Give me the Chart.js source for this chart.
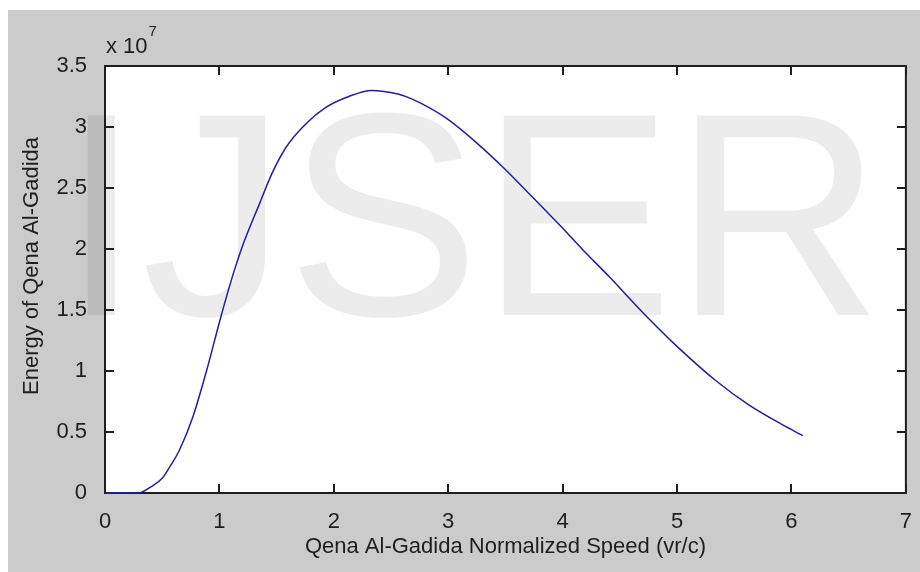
<!DOCTYPE html>
<html>
<head>
<meta charset="utf-8">
<style>
  html, body { margin: 0; padding: 0; background: #fff; }
  #wrap { width: 920px; height: 572px; }
</style>
<script src="https://cdn.jsdelivr.net/npm/chart.js@4"></script>
</head>
<body>
<div id="wrap"><canvas id="plot" width="920" height="572"></canvas></div>
<script>
// normalized speed (vr/c) and energy in units of 10^7
const speed = [0, 0.1, 0.2, 0.29, 0.4, 0.5, 0.57, 0.65, 0.77, 0.89, 1.0, 1.09, 1.2, 1.35, 1.46, 1.58, 1.75, 1.93, 2.13, 2.33, 2.56, 2.68, 2.97, 3.26, 3.49, 3.69, 3.98, 4.18, 4.41, 4.7, 4.99, 5.34, 5.63, 5.92, 6.1];
const energy = [0, 0, 0, 0, 0.05, 0.12, 0.22, 0.35, 0.63, 1.01, 1.4, 1.7, 2.02, 2.37, 2.62, 2.83, 3.02, 3.16, 3.25, 3.3, 3.27, 3.23, 3.08, 2.86, 2.66, 2.47, 2.19, 1.99, 1.77, 1.48, 1.21, 0.92, 0.72, 0.56, 0.47];

const xLabel = 'Qena Al-Gadida Normalized Speed (vr/c)';
const yLabel = 'Energy of Qena Al-Gadida';
const exponent = '7';
const watermark = 'IJSER';

const family = '"Liberation Sans", Arial, Helvetica, sans-serif';
const ink = '#1e1e1e';

const matlabFrame = {
    id: 'matlabFrame',
    beforeDraw(chart) {
        const { ctx, chartArea: a } = chart;
        ctx.save();
        ctx.fillStyle = '#fff';
        ctx.fillRect(0, 0, chart.width, chart.height);
        ctx.fillStyle = '#cbcbcb';
        ctx.fillRect(8, 10, chart.width - 8, chart.height - 10);
        ctx.fillStyle = '#fff';
        ctx.fillRect(a.left, a.top, a.right - a.left, a.bottom - a.top);
        // faint stamp behind everything
        ctx.fillStyle = 'rgba(0,0,0,0.075)';
        ctx.font = `290px ${family}`;
        ctx.textBaseline = 'alphabetic';
        ctx.fillText(watermark, 61, 315);
        ctx.restore();
    },
    beforeDatasetsDraw(chart) {
        const { ctx, chartArea: a, scales } = chart;
        ctx.save();
        ctx.strokeStyle = ink;
        ctx.lineWidth = 2;
        ctx.strokeRect(a.left, a.top, a.right - a.left, a.bottom - a.top);
        // inward tick marks on all four sides
        const len = 9;
        ctx.beginPath();
        scales.x.ticks.forEach((t) => {
            const px = Math.round(scales.x.getPixelForValue(t.value));
            ctx.moveTo(px, a.bottom);
            ctx.lineTo(px, a.bottom - len);
            ctx.moveTo(px, a.top);
            ctx.lineTo(px, a.top + len);
        });
        scales.y.ticks.forEach((t) => {
            const py = Math.round(scales.y.getPixelForValue(t.value));
            ctx.moveTo(a.left, py);
            ctx.lineTo(a.left + len, py);
            ctx.moveTo(a.right, py);
            ctx.lineTo(a.right - len, py);
        });
        ctx.stroke();

        ctx.fillStyle = ink;
        ctx.textBaseline = 'alphabetic';
        ctx.textAlign = 'left';
        ctx.font = `22px ${family}`;
        ctx.fillText('x 10', a.left + 1, 53);
        const w = ctx.measureText('x 10').width;
        ctx.font = `15px ${family}`;
        ctx.fillText(exponent, a.left + 2 + w, 36);

        ctx.font = `22px ${family}`;
        ctx.translate(32, 266);
        ctx.rotate(-Math.PI / 2);
        ctx.textAlign = 'center';
        ctx.textBaseline = 'middle';
        ctx.fillText(yLabel, 0, 0);
        ctx.restore();
    },
};

window.addEventListener('load', () => {
    new Chart(document.getElementById('plot'), {
        type: 'scatter',
        data: {
            datasets: [
                {
                    data: speed.map((s, i) => ({ x: s, y: energy[i] })),
                    showLine: true,
                    borderColor: '#1f1fa3',
                    borderWidth: 1.5,
                    pointRadius: 0,
                    cubicInterpolationMode: 'monotone',
                    clip: 3,
                },
            ],
        },
        options: {
            responsive: false,
            animation: false,
            layout: { padding: { top: 66, right: 10, left: 0, bottom: 0 } },
            plugins: { legend: { display: false }, tooltip: { enabled: false } },
            scales: {
                x: {
                    type: 'linear',
                    min: 0,
                    max: 7,
                    grid: { display: false },
                    border: { display: false },
                    ticks: {
                        stepSize: 1,
                        padding: 8,
                        maxRotation: 0,
                        autoSkip: false,
                        color: ink,
                        font: { family: family, size: 22 },
                        callback: (v) => String(v),
                    },
                    title: {
                        display: true,
                        text: xLabel,
                        color: ink,
                        font: { family: family, size: 22 },
                        padding: { top: 0, bottom: 12 },
                    },
                    afterFit: (scale) => {
                        scale.height = 79;
                    },
                },
                y: {
                    min: 0,
                    max: 3.5,
                    grid: { display: false },
                    border: { display: false },
                    ticks: {
                        stepSize: 0.5,
                        padding: 10,
                        autoSkip: false,
                        color: ink,
                        font: { family: family, size: 22 },
                        callback: (v) => String(+v.toFixed(1)),
                    },
                    afterFit: (scale) => {
                        scale.width = 105;
                    },
                },
            },
        },
        plugins: [matlabFrame],
    });
});
</script>
</body>
</html>
